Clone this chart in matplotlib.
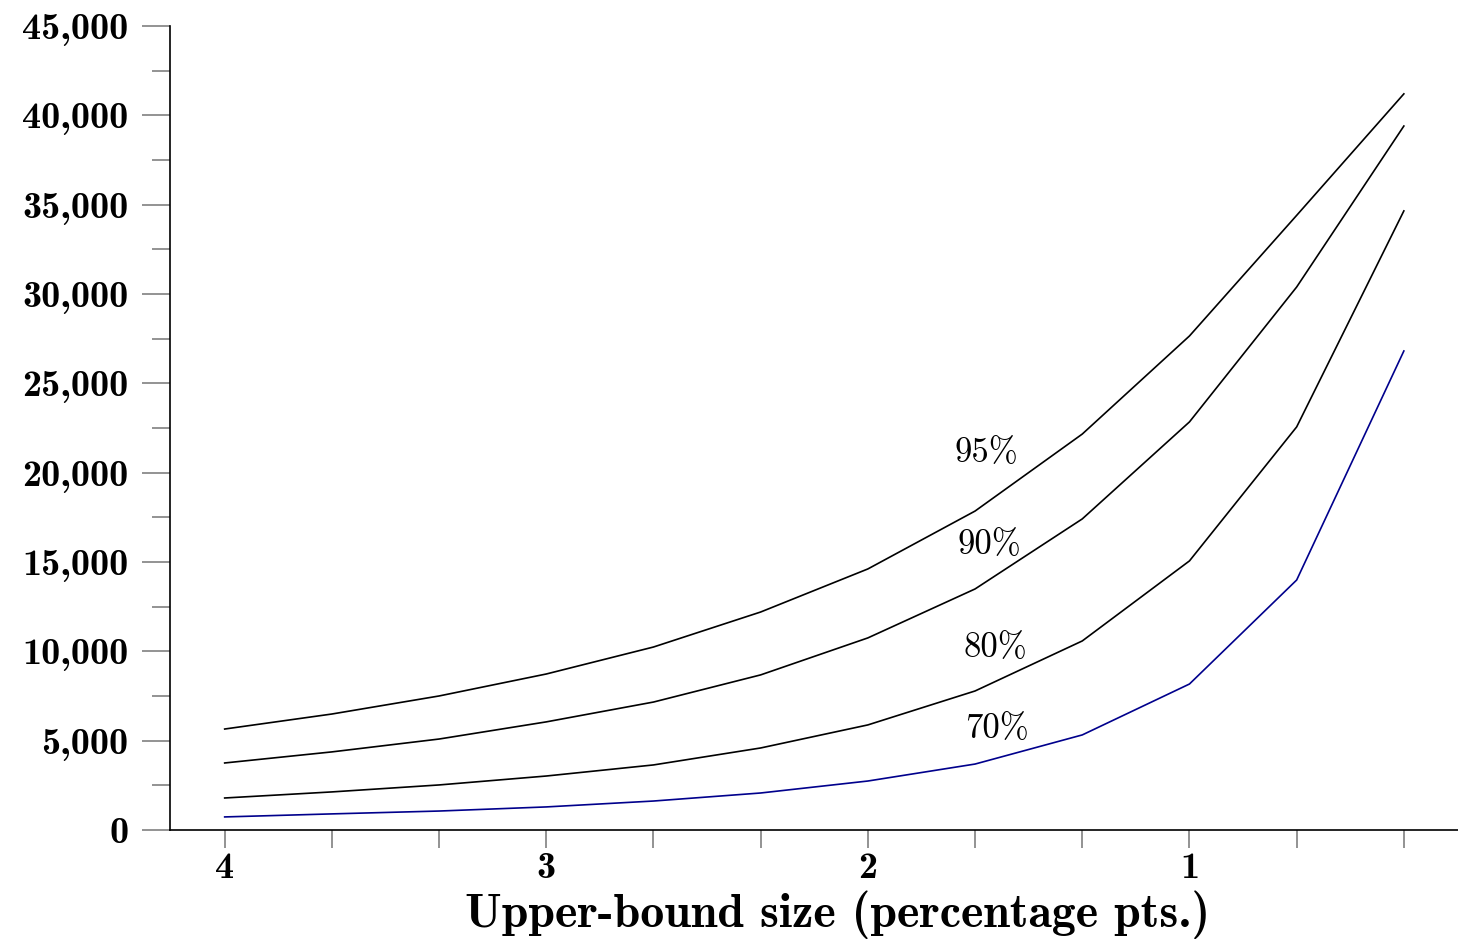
import numpy as np
import matplotlib
matplotlib.use("Agg")
import matplotlib.pyplot as plt
from matplotlib.ticker import FixedLocator, FuncFormatter

# ----------------------------------------------------------------------
# Data
# ----------------------------------------------------------------------
bound_size = [4.0, 11 / 3, 10 / 3, 3.0, 8 / 3, 7 / 3, 2.0, 5 / 3, 4 / 3, 1.0, 2 / 3, 1 / 3]

n_95 = [5650, 6490, 7500, 8730, 10240, 12200, 14610, 17850, 22160, 27650, 34400, 41200]
n_90 = [3750, 4370, 5090, 6050, 7160, 8680, 10750, 13490, 17410, 22840, 30390, 39400]
n_80 = [1790, 2130, 2520, 3020, 3640, 4590, 5880, 7780, 10580, 15060, 22560, 34650]
n_70 = [730, 900, 1060, 1290, 1620, 2070, 2740, 3690, 5320, 8170, 13990, 26810]

curve_labels = ["95%", "90%", "80%", "70%"]
# label anchor positions (x in pts, y in sample size)
label_x = [1.63, 1.622, 1.605, 1.60]
label_y = [21100, 15950, 10200, 5650]

major_x = [4, 3, 2, 1]
major_y = list(range(0, 45001, 5000))
minor_y = list(range(2500, 45000, 5000))

BOLD = "cmb10"
REG = "cmr10"

fig = plt.figure(figsize=(14.58, 9.48), dpi=100)
ax = fig.add_axes([0.1166, 0.1245, 0.8834, 0.8481])

ax.plot(bound_size, n_95, color="black", lw=1.2)
ax.plot(bound_size, n_90, color="black", lw=1.2)
ax.plot(bound_size, n_80, color="black", lw=1.2)
ax.plot(bound_size, n_70, color="#00008c", lw=1.2)

for txt, lx, ly in zip(curve_labels, label_x, label_y):
    ax.text(lx, ly, txt, family=REG, fontsize=25, ha="center", va="center")

ax.set_xlim(4.17, 0.165)
ax.set_ylim(0, 45000)

ax.spines["top"].set_visible(False)
ax.spines["right"].set_visible(False)
for s in ("left", "bottom"):
    ax.spines[s].set_linewidth(1.2)

ax.xaxis.set_major_locator(FixedLocator(major_x))
ax.xaxis.set_minor_locator(FixedLocator(bound_size))
ax.xaxis.set_major_formatter(FuncFormatter(lambda v, p: f"{v:.0f}"))
ax.yaxis.set_major_locator(FixedLocator(major_y))
ax.yaxis.set_minor_locator(FixedLocator(minor_y))
ax.yaxis.set_major_formatter(FuncFormatter(lambda v, p: f"{v:,.0f}"))

ax.tick_params(axis="x", which="both", length=13, width=1.2, color="#808080",
               direction="out", pad=3)
ax.tick_params(axis="y", which="major", length=20, width=1.2, color="#808080",
               direction="out", pad=10)
ax.tick_params(axis="y", which="minor", length=13, width=1.2, color="#808080",
               direction="out")

for lab in ax.get_xticklabels() + ax.get_yticklabels():
    lab.set_family(BOLD)
    lab.set_fontsize(27.5)

ax.set_xlabel("Upper-bound size (percentage pts.)", family=BOLD, fontsize=34.5)
ax.xaxis.set_label_coords(0.518, -0.106)
ax.xaxis.label.set_va("center")

fig.savefig("out.png", dpi=100)
